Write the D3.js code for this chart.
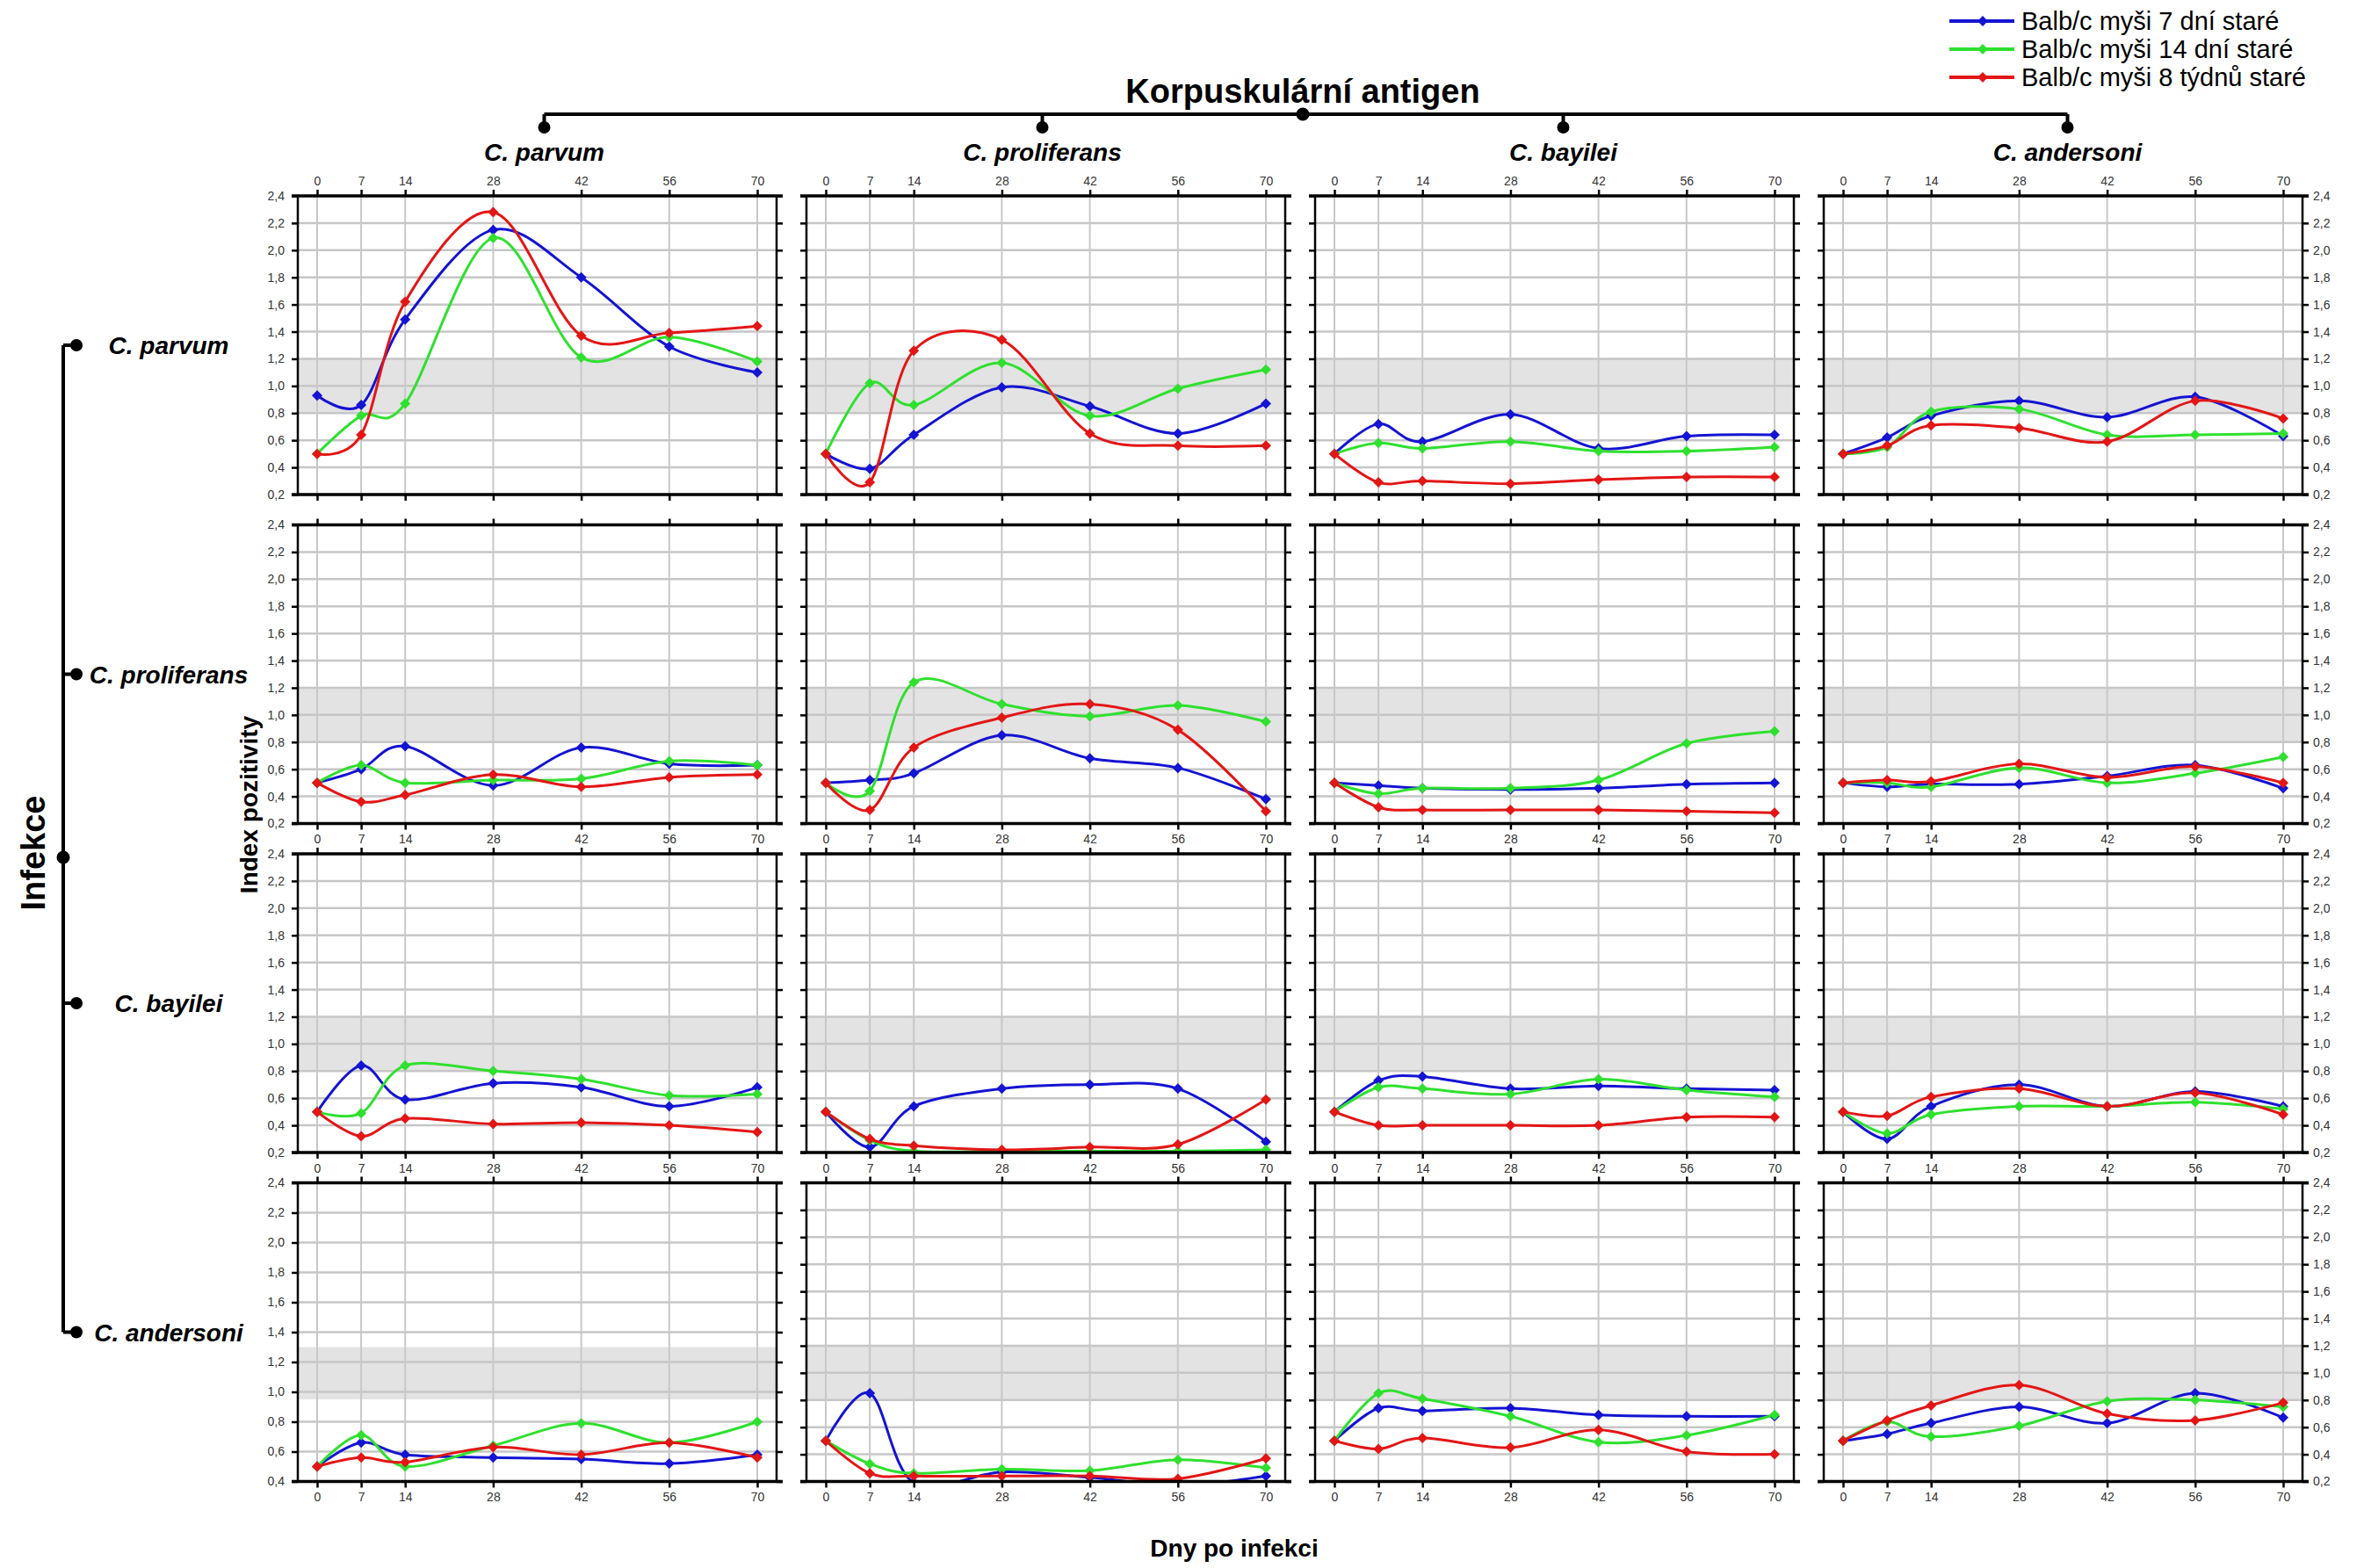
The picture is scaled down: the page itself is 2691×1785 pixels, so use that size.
<!DOCTYPE html>
<html>
<head>
<meta charset="utf-8">
<script src="https://cdn.jsdelivr.net/npm/d3@7"></script>
<style>
  body { margin: 0; background: #fff; }
  text { font-family: "Liberation Sans", Arial, sans-serif; }
</style>
</head>
<body>
<svg id="chart"></svg>
<script>
// Days after infection (x axis)
const days = [0, 7, 14, 28, 42, 56, 70];
// Columns = antigen, rows = infection
const antigens = ["C. parvum", "C. proliferans", "C. bayilei", "C. andersoni"];
const infections = ["C. parvum", "C. proliferans", "C. bayilei", "C. andersoni"];
const seriesNames = ["Balb/c myši 7 dní staré", "Balb/c myši 14 dní staré", "Balb/c myši 8 týdnů staré"];
const yTicks = [0.2, 0.4, 0.6, 0.8, 1.0, 1.2, 1.4, 1.6, 1.8, 2.0, 2.2, 2.4];
// the C. andersoni / C. parvum panel has its own left scale in the original
const yTicksAnders = [0.4, 0.6, 0.8, 1.0, 1.2, 1.4, 1.6, 1.8, 2.0, 2.2, 2.4];
const band = [0.8, 1.2];
const bandAnders = [0.95, 1.3];

// index of positivity, one inner array per antigen column
const parvum7d = [
  [0.93, 0.86, 1.49, 2.15, 1.80, 1.29, 1.10],
  [0.50, 0.39, 0.64, 0.99, 0.85, 0.65, 0.87],
  [0.50, 0.72, 0.59, 0.79, 0.54, 0.63, 0.64],
  [0.50, 0.62, 0.78, 0.89, 0.77, 0.92, 0.63]];
const parvum14d = [
  [0.50, 0.78, 0.87, 2.09, 1.21, 1.36, 1.18],
  [0.50, 1.02, 0.86, 1.17, 0.78, 0.98, 1.12],
  [0.50, 0.58, 0.54, 0.59, 0.52, 0.52, 0.55],
  [0.50, 0.55, 0.81, 0.83, 0.64, 0.64, 0.65]];
const parvum8w = [
  [0.50, 0.64, 1.62, 2.28, 1.37, 1.39, 1.44],
  [0.50, 0.29, 1.26, 1.34, 0.65, 0.56, 0.56],
  [0.50, 0.29, 0.30, 0.28, 0.31, 0.33, 0.33],
  [0.50, 0.56, 0.71, 0.69, 0.59, 0.89, 0.76]];

const prolif7d = [
  [0.50, 0.60, 0.77, 0.48, 0.76, 0.64, 0.63],
  [0.50, 0.52, 0.57, 0.85, 0.68, 0.61, 0.38],
  [0.50, 0.48, 0.46, 0.45, 0.46, 0.49, 0.50],
  [0.50, 0.47, 0.49, 0.49, 0.55, 0.63, 0.46]];
const prolif14d = [
  [0.50, 0.63, 0.50, 0.52, 0.53, 0.66, 0.63],
  [0.50, 0.44, 1.24, 1.08, 0.99, 1.07, 0.95],
  [0.50, 0.42, 0.46, 0.46, 0.52, 0.79, 0.88],
  [0.50, 0.50, 0.47, 0.61, 0.50, 0.57, 0.69]];
const prolif8w = [
  [0.50, 0.36, 0.41, 0.56, 0.47, 0.54, 0.56],
  [0.50, 0.30, 0.76, 0.98, 1.08, 0.89, 0.29],
  [0.50, 0.32, 0.30, 0.30, 0.30, 0.29, 0.28],
  [0.50, 0.52, 0.51, 0.64, 0.54, 0.62, 0.50]];

const bayil7d = [
  [0.50, 0.84, 0.59, 0.71, 0.68, 0.54, 0.68],
  [0.50, 0.24, 0.54, 0.67, 0.70, 0.67, 0.28],
  [0.50, 0.73, 0.76, 0.67, 0.69, 0.67, 0.66],
  [0.50, 0.30, 0.54, 0.70, 0.54, 0.65, 0.54]];
const bayil14d = [
  [0.50, 0.49, 0.84, 0.80, 0.74, 0.62, 0.63],
  [0.50, 0.29, 0.21, 0.21, 0.21, 0.21, 0.22],
  [0.50, 0.68, 0.67, 0.63, 0.74, 0.66, 0.61],
  [0.50, 0.34, 0.48, 0.54, 0.54, 0.57, 0.52]];
const bayil8w = [
  [0.50, 0.32, 0.45, 0.41, 0.42, 0.40, 0.35],
  [0.50, 0.30, 0.25, 0.22, 0.24, 0.26, 0.59],
  [0.50, 0.40, 0.40, 0.40, 0.40, 0.46, 0.46],
  [0.50, 0.47, 0.61, 0.67, 0.54, 0.64, 0.48]];

const anders7d = [
  [0.50, 0.66, 0.58, 0.56, 0.55, 0.52, 0.58],
  [0.50, 0.85, 0.19, 0.27, 0.23, 0.17, 0.24],
  [0.50, 0.74, 0.72, 0.74, 0.69, 0.68, 0.68],
  [0.50, 0.55, 0.63, 0.75, 0.63, 0.85, 0.67]];
const anders14d = [
  [0.50, 0.71, 0.50, 0.64, 0.79, 0.66, 0.80],
  [0.50, 0.33, 0.26, 0.29, 0.28, 0.36, 0.30],
  [0.50, 0.85, 0.81, 0.68, 0.49, 0.54, 0.69],
  [0.50, 0.64, 0.53, 0.61, 0.79, 0.80, 0.75]];
const anders8w = [
  [0.50, 0.56, 0.53, 0.63, 0.58, 0.66, 0.56],
  [0.50, 0.26, 0.24, 0.24, 0.24, 0.22, 0.37],
  [0.50, 0.44, 0.52, 0.45, 0.58, 0.42, 0.40],
  [0.50, 0.65, 0.76, 0.91, 0.70, 0.65, 0.78]];

const rows = [
  [parvum7d, parvum14d, parvum8w],
  [prolif7d, prolif14d, prolif8w],
  [bayil7d, bayil14d, bayil8w],
  [anders7d, anders14d, anders8w]];

const colors = ["#1414d2", "#2fe02f", "#e31616"];

// layout
const width = 2691, height = 1785;
const colStart = 339, colStep = 579, panelW = 545;
const rowStart = 223, rowStep = 374.5, panelH = 340;
const padX = 22;

const fmt = d => d.toFixed(1).replace(".", ",");

const svg = d3.select("#chart")
  .attr("width", width)
  .attr("height", height);

const line = d3.line().curve(d3.curveCatmullRom.alpha(0));
// diamond marker = square turned by 45 degrees
const marker = d3.symbol(d3.symbolSquare, 72);

function drawPanel(r, c) {
  const px = colStart + c * colStep;
  const py = rowStart + r * rowStep;
  const special = (r === 3 && c === 0);
  const ticks = special ? yTicksAnders : yTicks;
  const bnd = special ? bandAnders : band;

  const x = d3.scaleLinear().domain([0, 70]).range([px + padX, px + panelW - padX]);
  const y = d3.scaleLinear().domain([ticks[0], 2.4]).range([py + panelH, py]);

  const g = svg.append("g");
  const clipId = "clip" + r + c;
  g.append("clipPath").attr("id", clipId)
    .append("rect").attr("x", px).attr("y", py).attr("width", panelW).attr("height", panelH);

  // reference band
  g.append("rect")
    .attr("x", px).attr("width", panelW)
    .attr("y", y(bnd[1])).attr("height", y(bnd[0]) - y(bnd[1]))
    .attr("fill", "#e3e3e3");

  // grid
  g.selectAll(".hg").data(ticks).join("line")
    .attr("x1", px).attr("x2", px + panelW)
    .attr("y1", d => y(d)).attr("y2", d => y(d))
    .attr("stroke", "#c6c6c6").attr("stroke-width", 2.5);
  g.selectAll(".vg").data(days).join("line")
    .attr("x1", d => x(d)).attr("x2", d => x(d))
    .attr("y1", py).attr("y2", py + panelH)
    .attr("stroke", "#c8c8c8").attr("stroke-width", 2);

  // series
  const plot = g.append("g").attr("clip-path", `url(#${clipId})`);
  rows[r].forEach((s, i) => {
    const vals = s[c];
    const pts = days.map((d, k) => [x(d), y(vals[k])]);
    plot.append("path")
      .attr("d", line(pts))
      .attr("fill", "none")
      .attr("stroke", colors[i])
      .attr("stroke-width", 3);
    plot.selectAll(".m" + i).data(pts).join("path")
      .attr("transform", d => `translate(${d[0]},${d[1]}) rotate(45)`)
      .attr("d", marker)
      .attr("fill", colors[i]);
  });

  // axes (ticks only, frame drawn below)
  const styleAxis = a => {
    a.select(".domain").remove();
    a.selectAll(".tick line").attr("stroke", "#000").attr("stroke-width", 2.5);
    a.selectAll("text").attr("fill", "#333").attr("font-size", 14)
      .attr("font-family", "'Liberation Sans', Arial, sans-serif");
  };
  g.append("g").attr("transform", `translate(${px},0)`)
    .call(d3.axisLeft(y).tickValues(ticks).tickSize(7).tickPadding(8)
      .tickFormat(c === 0 ? fmt : ""))
    .call(styleAxis);
  g.append("g").attr("transform", `translate(${px + panelW},0)`)
    .call(d3.axisRight(y).tickValues(ticks).tickSize(7).tickPadding(5)
      .tickFormat(c === 3 ? fmt : ""))
    .call(styleAxis);
  g.append("g").attr("transform", `translate(0,${py})`)
    .call(d3.axisTop(x).tickValues(days).tickSize(7).tickPadding(5)
      .tickFormat(r === 0 ? d3.format("d") : ""))
    .call(styleAxis);
  g.append("g").attr("transform", `translate(0,${py + panelH})`)
    .call(d3.axisBottom(x).tickValues(days).tickSize(7).tickPadding(6)
      .tickFormat(r > 0 ? d3.format("d") : ""))
    .call(styleAxis);

  // frame
  g.append("line").attr("x1", px).attr("x2", px).attr("y1", py).attr("y2", py + panelH)
    .attr("stroke", "#000").attr("stroke-width", 2.5);
  g.append("line").attr("x1", px + panelW).attr("x2", px + panelW).attr("y1", py).attr("y2", py + panelH)
    .attr("stroke", "#000").attr("stroke-width", 2.5);
  [py, py + panelH].forEach(yy => {
    g.append("line").attr("x1", px - 7).attr("x2", px + panelW + 7).attr("y1", yy).attr("y2", yy)
      .attr("stroke", "#000").attr("stroke-width", 3.5);
  });
}

for (let r = 0; r < 4; r++) {
  for (let c = 0; c < 4; c++) drawPanel(r, c);
}

// header bracket for antigen columns
const colCenter = c => colStart + c * colStep + panelW / 2;
const hdrY = 130;
const hdr = svg.append("g").attr("stroke", "#000").attr("stroke-width", 4);
hdr.append("line").attr("x1", colCenter(0) + 8).attr("x2", colCenter(3) + 5)
  .attr("y1", hdrY).attr("y2", hdrY);
const hdrX = [colCenter(0) + 8, colCenter(1) - 4, colCenter(2) + 10, colCenter(3) + 5];
hdrX.forEach(xx => {
  hdr.append("line").attr("x1", xx).attr("x2", xx).attr("y1", hdrY).attr("y2", hdrY + 15);
  svg.append("circle").attr("cx", xx).attr("cy", hdrY + 15).attr("r", 7).attr("fill", "#000");
});
svg.append("circle").attr("cx", 1483).attr("cy", hdrY).attr("r", 7.5).attr("fill", "#000");
svg.append("text").attr("x", 1483).attr("y", 117)
  .attr("text-anchor", "middle").attr("font-weight", "bold").attr("font-size", 38)
  .text("Korpuskulární antigen");
antigens.forEach((a, c) => {
  svg.append("text").attr("x", hdrX[c]).attr("y", 183)
    .attr("text-anchor", "middle").attr("font-weight", "bold").attr("font-style", "italic")
    .attr("font-size", 28).text(a);
});

// left bracket for infection rows
const rowCenter = r => rowStart + r * rowStep + panelH / 2;
const brX = 72;
const br = svg.append("g").attr("stroke", "#000").attr("stroke-width", 4);
br.append("line").attr("x1", brX).attr("x2", brX).attr("y1", rowCenter(0)).attr("y2", rowCenter(3));
infections.forEach((inf, r) => {
  br.append("line").attr("x1", brX).attr("x2", brX + 15).attr("y1", rowCenter(r)).attr("y2", rowCenter(r));
  svg.append("circle").attr("cx", brX + 15).attr("cy", rowCenter(r)).attr("r", 7).attr("fill", "#000");
  svg.append("text").attr("x", 192).attr("y", rowCenter(r) + 10)
    .attr("text-anchor", "middle").attr("font-weight", "bold").attr("font-style", "italic")
    .attr("font-size", 28).text(inf);
});
svg.append("circle").attr("cx", brX).attr("cy", 976).attr("r", 7.5).attr("fill", "#000");
svg.append("text").attr("transform", "translate(38,971) rotate(-90)")
  .attr("text-anchor", "middle").attr("dominant-baseline", "central")
  .attr("font-weight", "bold").attr("font-size", 38).text("Infekce");

// axis titles
svg.append("text").attr("transform", "translate(283,916) rotate(-90)")
  .attr("text-anchor", "middle").attr("dominant-baseline", "central")
  .attr("font-weight", "bold").attr("font-size", 28).text("Index pozitivity");
svg.append("text").attr("x", 1405).attr("y", 1772)
  .attr("text-anchor", "middle").attr("font-weight", "bold").attr("font-size", 28)
  .text("Dny po infekci");

// legend
const lg = svg.append("g").attr("transform", "translate(2219,24)");
seriesNames.forEach((n, i) => {
  const e = lg.append("g").attr("transform", `translate(0,${i * 32})`);
  e.append("line").attr("x1", 0).attr("x2", 74).attr("y1", 0).attr("y2", 0)
    .attr("stroke", colors[i]).attr("stroke-width", 4);
  e.append("path").attr("transform", "translate(38,0) rotate(45)")
    .attr("d", d3.symbol(d3.symbolSquare, 70)).attr("fill", colors[i]);
  e.append("text").attr("x", 82).attr("y", 10).attr("font-size", 29).text(n);
});
</script>
</body>
</html>
